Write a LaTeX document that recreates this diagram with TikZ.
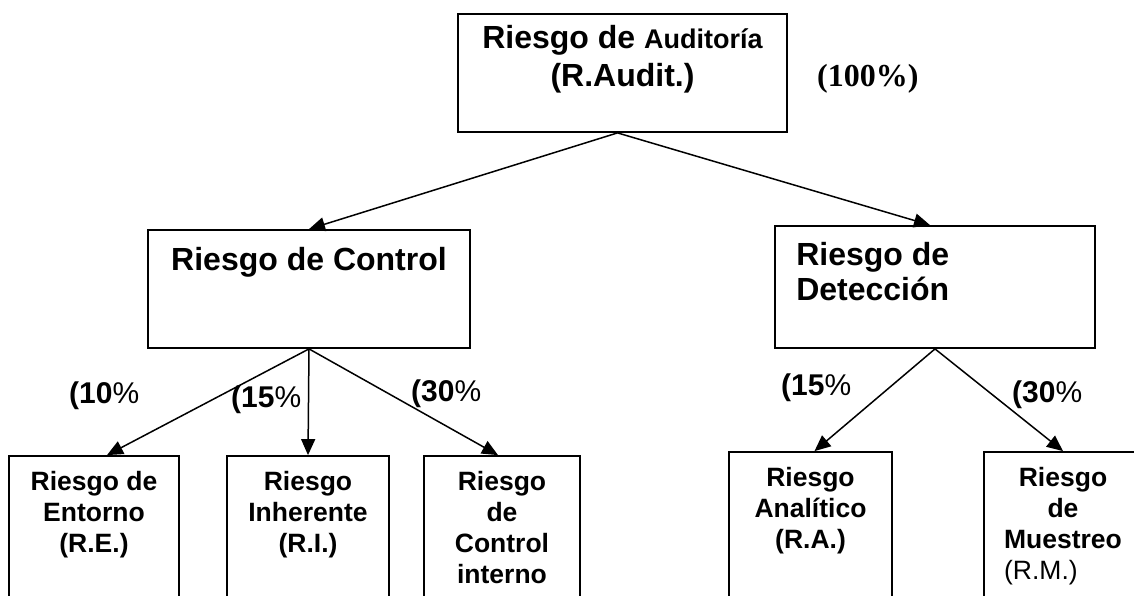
\documentclass[tikz,border=0pt]{standalone}
\usepackage{fontspec}
\setmainfont{Liberation Sans}
\newfontfamily\timesfont{Liberation Serif}
\usetikzlibrary{positioning,arrows.meta}

\begin{document}
\begin{tikzpicture}[x=1pt, y=-1pt,
  box/.style = {draw, line width=1.8pt, rectangle, inner sep=0pt},
  arr/.style = {-{Triangle[length=16pt,width=14pt]}, line width=1.5pt},
  big/.style = {font=\fontsize{32}{38}\selectfont\bfseries, inner sep=0pt},
  small/.style = {font=\fontsize{26.5}{31}\selectfont\bfseries, inner sep=0pt, align=center},
  pct/.style = {font=\fontsize{30}{30}\selectfont\bfseries, inner sep=0pt, anchor=base west}]
\useasboundingbox (0,0) rectangle (1134,595);
\clip (0,0) rectangle (1134,595);
% boxes
\node[box, minimum width=329pt, minimum height=118pt] (audit) at (622.5,73) {};
\node[box, minimum width=322pt, minimum height=118pt] (control) at (309,289) {};
\node[box, minimum width=320pt, minimum height=122pt] (detect) at (935,287) {};
\node[box, minimum width=170pt, minimum height=200pt] (entorno) at (94,556) {};
\node[box, minimum width=162pt, minimum height=200pt] (inherente) at (308,556) {};
\node[box, minimum width=156pt, minimum height=200pt] (cint) at (502,556) {};
\node[box, minimum width=163pt, minimum height=200pt] (analitico) at (810.5,552) {};
\node[box, minimum width=158pt, minimum height=200pt] (muestreo) at (1063,552) {};
% texts
\node[big, align=center, below=12pt of audit.north] (audit-t) {Riesgo de {\fontsize{27}{38}\selectfont Auditoría}\\(R.Audit.)};
\node[big, below=18pt of control.north] (control-t) {Riesgo de Control};
\node[big, align=left, font=\fontsize{32}{35}\selectfont\bfseries, below right=17pt and 22pt of detect.north west] (detect-t) {Riesgo de\\Detección};
\node[small, below=16pt of entorno.north] (entorno-t) {Riesgo de\\Entorno\\(R.E.)};
\node[small, below=16pt of inherente.north] (inherente-t) {Riesgo\\Inherente\\(R.I.)};
\node[small, below=16pt of cint.north] (cint-t) {Riesgo\\de\\Control\\interno};
\node[small, below=16pt of analitico.north] (analitico-t) {Riesgo\\Analítico\\(R.A.)};
\node[small, below=16pt of muestreo.north] (muestreo-t) {Riesgo\\de\\Muestreo\\\rlap{\mdseries (R.M.)}\phantom{Muestreo}};
% percentages
\node[pct, font=\fontsize{32}{34}\selectfont\timesfont\bfseries] (p100) at (817,86) {(100\%)};
\node[pct] (p10) at (69,403) {(10{\mdseries\%}};
\node[pct] (p15a) at (231,407) {(15{\mdseries\%}};
\node[pct] (p30a) at (411,401) {(30{\mdseries\%}};
\node[pct] (p15b) at (781,395) {(15{\mdseries\%}};
\node[pct] (p30b) at (1012,402) {(30{\mdseries\%}};
% arrows
\draw[arr] ([xshift=-5pt]audit.south) -- (control.north);
\draw[arr] ([xshift=-5pt]audit.south) -- ([xshift=-5pt]detect.north);
\draw[arr] (control.south) -- ([xshift=13pt]entorno.north);
\draw[arr] (control.south) -- (inherente.north);
\draw[arr] (control.south) -- ([xshift=-4pt]cint.north);
\draw[arr] (detect.south) -- ([xshift=4pt]analitico.north);
\draw[arr] (detect.south) -- (muestreo.north);
\end{tikzpicture}
\end{document}
